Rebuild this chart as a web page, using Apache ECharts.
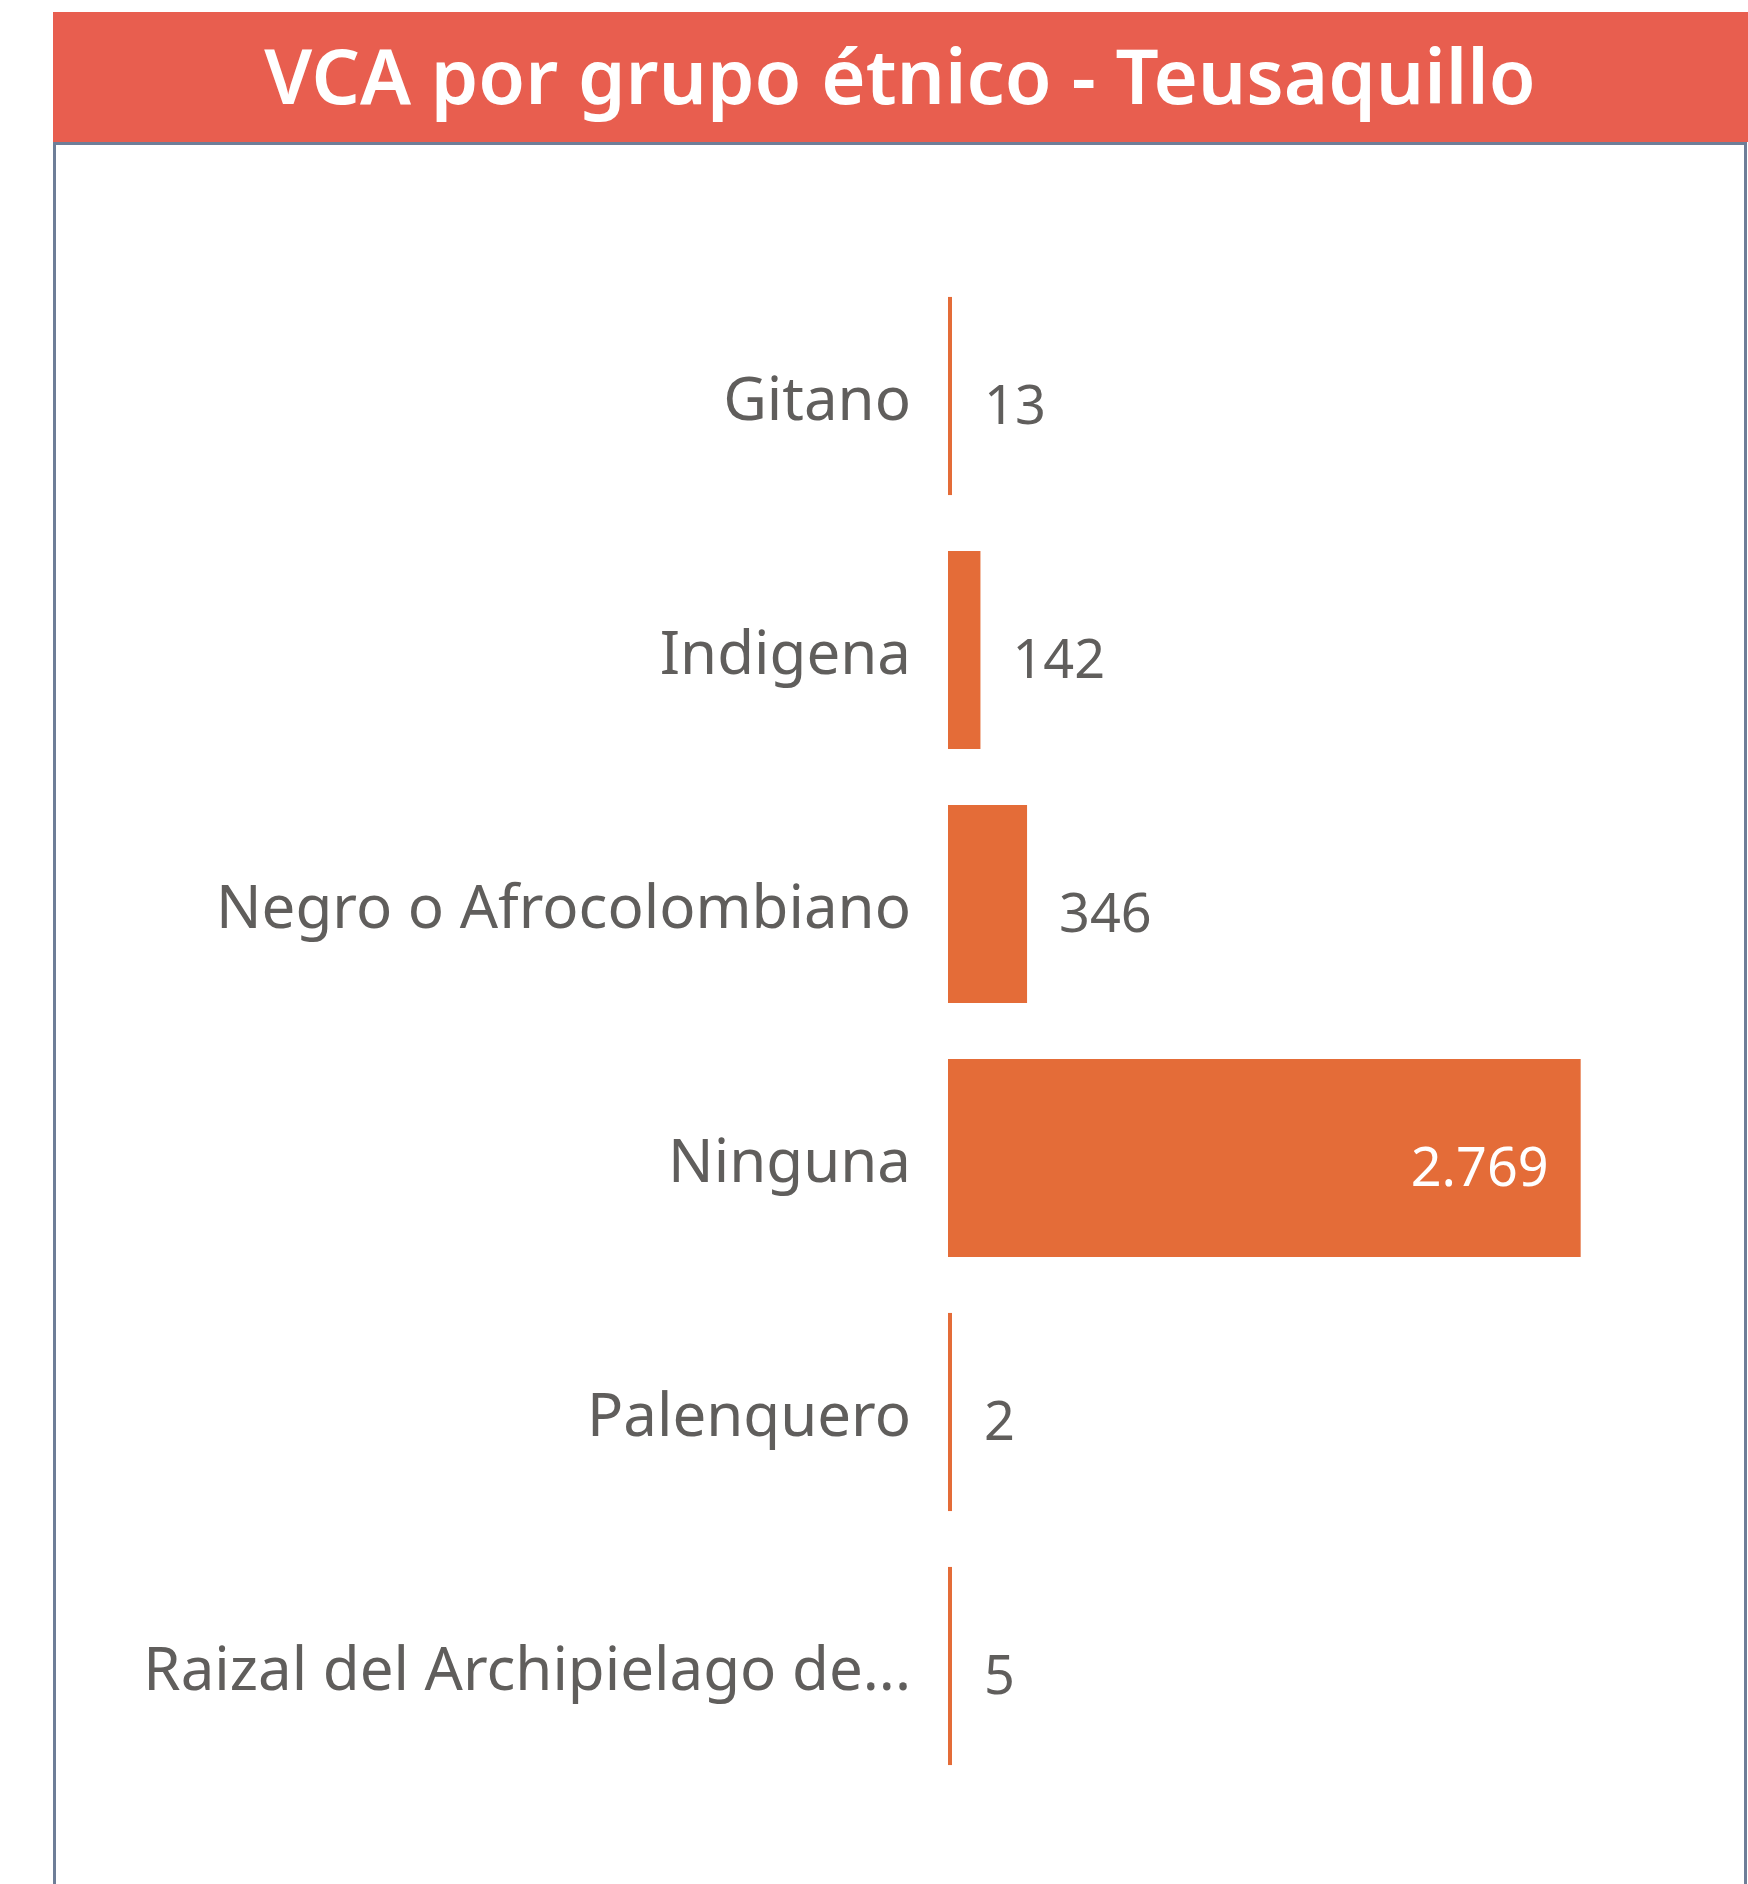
<!DOCTYPE html>
<html>
<head>
<meta charset="utf-8">
<script src="https://cdn.jsdelivr.net/npm/echarts@6/dist/echarts.min.js"></script>
<style>
	html, body { margin: 0; padding: 0; background: #fff; }
	#chart { width: 1748px; height: 1884px; }
</style>
</head>
<body>
<div id="chart"></div>
<script>
const titleText = 'VCA por grupo étnico - Teusaquillo'
const categories = ['Gitano', 'Indigena', 'Negro o Afrocolombiano', 'Ninguna', 'Palenquero', 'Raizal del Archipielago de...']
const values = [13, 142, 346, 2769, 2, 5]
const insideIndex = 3 // Ninguna: etiqueta dentro de la barra

const FONT = '"Noto Sans", "Open Sans", sans-serif'
const BAR_COLOR = '#e46c38'
const TEXT_COLOR = '#605e5c'

const chart = echarts.init(document.getElementById('chart'), null, { renderer: 'canvas' })

function fmt(v) {
	return String(v).replace(/\B(?=(\d{3})+(?!\d))/g, '.')
}

const option = {
	backgroundColor: '#fff',
	animation: false,
	graphic: [
		{
			type: 'rect',
			shape: { x: 53, y: 12, width: 1695, height: 130 },
			style: { fill: '#e85e4f' },
			z: 10
		},
		{
			type: 'rect',
			shape: { x: 54.5, y: 143.5, width: 1691, height: 1800 },
			style: { fill: null, stroke: '#6e7e98', lineWidth: 3 },
			z: 10
		},
		{
			type: 'text',
			x: 900,
			y: 82,
			style: {
				text: titleText,
				fill: '#fff',
				font: '600 76px ' + FONT,
				align: 'center',
				verticalAlign: 'middle'
			},
			z: 11
		}
	],
	grid: {
		left: 948,
		right: 46,
		top: 269,
		bottom: 91,
		containLabel: false
	},
	xAxis: {
		type: 'value',
		min: 0,
		max: 3300,
		show: false
	},
	yAxis: {
		type: 'category',
		inverse: true,
		data: categories,
		axisLine: { show: false },
		axisTick: { show: false },
		splitLine: { show: false },
		axisLabel: {
			margin: 37,
			formatter: v => '{c|' + v + '}',
			rich: {
				c: {
					fontSize: 60,
					fontFamily: FONT,
					color: TEXT_COLOR,
					padding: [14, 0, 0, 0]
				}
			}
		}
	},
	series: [
		{
			type: 'bar',
			barCategoryGap: '22%',
			barMinHeight: 4,
			itemStyle: { color: BAR_COLOR },
			data: values.map((v, i) => ({
				value: v,
				label: i === insideIndex
					? { position: 'insideRight', distance: 32, color: '#fff' }
					: { position: 'right', distance: 32, color: TEXT_COLOR }
			})),
			label: {
				show: true,
				fontSize: 54,
				fontFamily: FONT,
				offset: [0, 13],
				formatter: p => fmt(p.value)
			}
		}
	]
}

chart.setOption(option)
</script>
</body>
</html>
